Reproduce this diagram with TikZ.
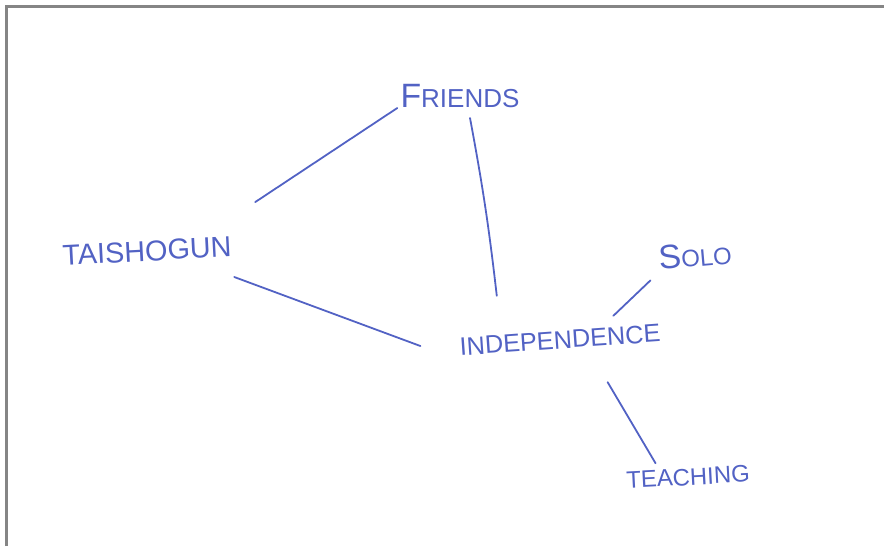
\documentclass[tikz,border=0pt]{standalone}
\usepackage{fontspec}
\setmainfont{Liberation Sans}
\usetikzlibrary{positioning}
\definecolor{ink}{HTML}{5262C4}
\definecolor{frame}{HTML}{858585}
\tikzset{
  word/.style={inner sep=0pt, text=ink, font=\fontsize{20.5}{22}\selectfont},
  wordsm/.style={word, font=\fontsize{18}{20}\selectfont},
  link/.style={ink, line width=0.45mm, line cap=round},
  edge/.style={frame, line width=0.55mm},
}

\begin{document}
\begin{tikzpicture}[x=0.25mm, y=-0.25mm]
\useasboundingbox (0,0) rectangle (884,546);
\draw[edge] (6.5,546) |- (884,6.5);
\node[word] (fri) at (460,96) {{\fontsize{24}{24}\selectfont F}{\fontsize{18.5}{20}\selectfont RIENDS}};
\node[word, rotate=3] (tai) at (147,251) {TAISHOGUN};
\node[wordsm, rotate=4] (ind) at (560,340) {INDEPENDENCE};
\node[word, rotate=5] (solo) at (695,255) {{\fontsize{24}{24}\selectfont S}{\fontsize{17}{20}\selectfont OLO}};
\node[wordsm, rotate=3, font=\fontsize{17}{20}\selectfont] (tea) at (688,477) {TEACHING};
\draw[link] ([shift={(24,-34)}]tai.north east) -- ([shift={(-3,0)}]fri.south west);
\draw[link] ([shift={(10,10)}]fri.south) to[bend left=2] ([shift={(38,-42)}]ind.north west);
\draw[link] ([shift={(2,20)}]tai.south east) -- ([shift={(-39,-1)}]ind.west);
\draw[link] ([shift={(-9,10)}]solo.south west) -- ([shift={(54,-15)}]ind.north);
\draw[link] ([shift={(47,33)}]ind.south) -- ([shift={(-32,-5)}]tea.north);
\end{tikzpicture}
\end{document}
